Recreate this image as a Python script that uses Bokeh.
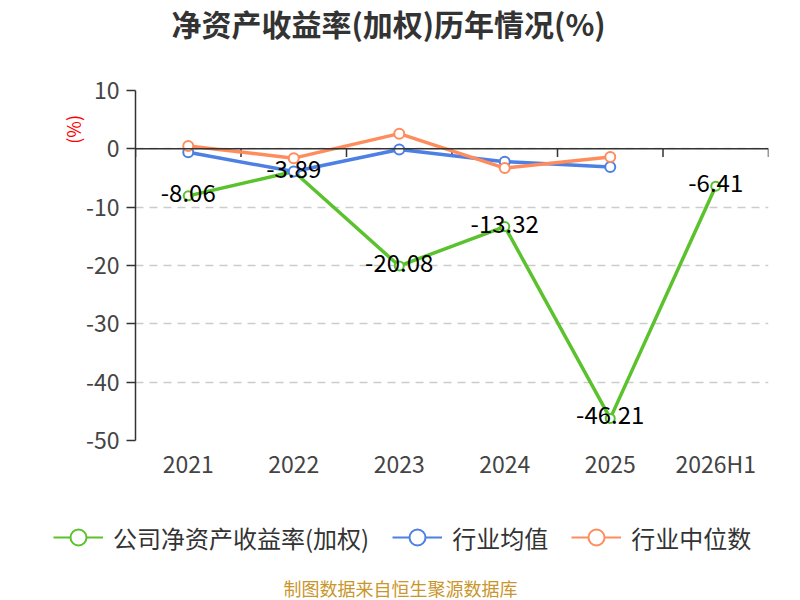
import math
from bokeh.plotting import figure
from bokeh.layouts import column
from bokeh.models import (Range1d, FactorRange, FixedTicker, Span, Legend, LegendItem,
                          ColumnDataSource, Label, LinearAxis)
from bokeh.core.properties import value
from bokeh.embed import file_html
from bokeh.resources import INLINE

categories = ["2021", "2022", "2023", "2024", "2025", "2026H1"]
company_roe = [-8.06, -3.89, -20.08, -13.32, -46.21, -6.41]
industry_mean = [-0.6, -3.9, -0.1, -2.2, -3.1]
industry_median = [0.5, -1.6, 2.6, -3.3, -1.4]
y_ticks = [-50, -40, -30, -20, -10, 0, 10]

title_text = "净资产收益率(加权)历年情况(%)"
footer_text = "制图数据来自恒生聚源数据库"
unit_text = "(%)"
series_names = ["公司净资产收益率(加权)", "行业均值", "行业中位数"]

GREEN = "#5ac22c"
BLUE = "#4d80e4"
ORANGE = "#ff8c5c"
FONT = "Noto Sans CJK SC"

OFF = [0]


def strip(height):
    f = figure(width=800, height=height, output_backend="svg", toolbar_location=None,
               x_range=Range1d(0, 1), y_range=Range1d(0, 1),
               x_axis_location=None, y_axis_location=None, min_border=0)
    f.outline_line_color = None
    f.grid.grid_line_color = None
    if hasattr(f, "frame_align"):
        f.frame_align = False
    else:
        OFF[0] = 135
    return f


# ---------------- title strip ----------------
t = strip(70)
# ---------------- legend + footer strip ----------------
b = strip(105)
off = OFF[0]

t.add_layout(Label(x=388 - off, y=48, x_units="screen", y_units="screen", text=title_text,
                   text_align="center", text_baseline="middle", text_font=FONT,
                   text_font_size="30px", text_font_style="bold", text_color="#333333"))

# ---------------- main chart ----------------
p = figure(width=800, height=425, output_backend="svg", toolbar_location=None,
           x_range=FactorRange(*categories, range_padding=0), y_range=Range1d(-50, 10),
           min_border_left=135, min_border_right=32, min_border_top=20, min_border_bottom=55)
p.outline_line_color = None
p.xgrid.grid_line_color = None
p.ygrid.ticker = FixedTicker(ticks=y_ticks)
p.ygrid.grid_line_color = "#cccccc"
p.ygrid.grid_line_dash = "8 6"
p.ygrid.grid_line_width = 1.5

p.yaxis.ticker = FixedTicker(ticks=y_ticks)
p.yaxis.major_label_overrides = {t_: str(t_) for t_ in y_ticks}
p.yaxis.axis_line_color = "#333333"
p.yaxis.axis_line_width = 1.5
p.yaxis.major_tick_line_color = "#333333"
p.yaxis.major_tick_line_width = 1.5
p.yaxis.major_tick_out = 9
p.yaxis.major_tick_in = 0
p.yaxis.minor_tick_line_color = None
p.yaxis.major_label_text_font = FONT
p.yaxis.major_label_text_font_size = "23px"
p.yaxis.major_label_text_color = "#444444"
p.yaxis.major_label_standoff = 7

# unit caption "(%)" shown as a rotated tick label near the top of an extra left axis
unit_axis = LinearAxis(ticker=FixedTicker(ticks=[5.8]), major_label_overrides={5.8: unit_text},
                       major_label_orientation=math.pi / 2, major_label_standoff=10,
                       axis_line_color=None, major_tick_line_color=None, minor_tick_line_color=None,
                       major_tick_out=0, major_tick_in=0,
                       major_label_text_font=FONT, major_label_text_font_size="18px",
                       major_label_text_color="#ff0000")
p.add_layout(unit_axis, "left")

p.xaxis.axis_line_color = None
p.xaxis.major_tick_line_color = None
p.xaxis.minor_tick_line_color = None
p.xaxis.major_label_text_font = FONT
p.xaxis.major_label_text_font_size = "23px"
p.xaxis.major_label_text_color = "#444444"
p.xaxis.major_label_standoff = -1

# zero line with boundary ticks
p.add_layout(Span(location=0, dimension="width", line_color="#333333", line_width=1.5))
bx = [(c, -0.5) for c in categories] + [(categories[-1], 0.5)]
p.segment(x0=bx, x1=bx, y0=[0] * len(bx), y1=[-1.4] * len(bx),
          line_color="#333333", line_width=1.5)

# series
p.line(categories, company_roe, line_color=GREEN, line_width=3.5)
p.scatter(categories, company_roe, size=9, fill_color="white", line_color=GREEN, line_width=2)
p.line(categories[:5], industry_mean, line_color=BLUE, line_width=3.5)
p.scatter(categories[:5], industry_mean, size=10, fill_color="white", line_color=BLUE, line_width=2)
p.line(categories[:5], industry_median, line_color=ORANGE, line_width=3.5)
p.scatter(categories[:5], industry_median, size=10, fill_color="white", line_color=ORANGE, line_width=2)

src = ColumnDataSource(dict(x=categories, y=company_roe, t=[f"{v:.2f}" for v in company_roe]))
p.text(x="x", y="y", text="t", source=src, text_align="center", text_baseline="middle",
       text_font=value(FONT), text_font_size="24px", text_color="#000000", y_offset=-3)

# legend (proxy renderers outside the strip's visible range) and footer
items = []
for name, col in zip(series_names, [GREEN, BLUE, ORANGE]):
    lr = b.line([-5, -4], [-5, -4], line_color=col, line_width=2)
    sr = b.scatter([-5], [-5], fill_color="white", line_color=col, line_width=2)
    items.append(LegendItem(label=name, renderers=[lr, sr]))
legend = Legend(items=items, orientation="horizontal", location=(53 - off, 43),
                glyph_width=50, glyph_height=40, label_standoff=10, spacing=23,
                padding=0, margin=0, border_line_color=None, background_fill_alpha=0,
                label_text_font=FONT, label_text_font_size="24px", label_text_color="#333333")
b.add_layout(legend, "center")
b.add_layout(Label(x=400 - off, y=13, x_units="screen", y_units="screen", text=footer_text,
                   text_align="center", text_baseline="middle", text_font=FONT,
                   text_font_size="18px", text_color="#c9962b"))

layout = column(t, p, b, spacing=0)
open("out.html", "w").write(file_html(layout, INLINE))
